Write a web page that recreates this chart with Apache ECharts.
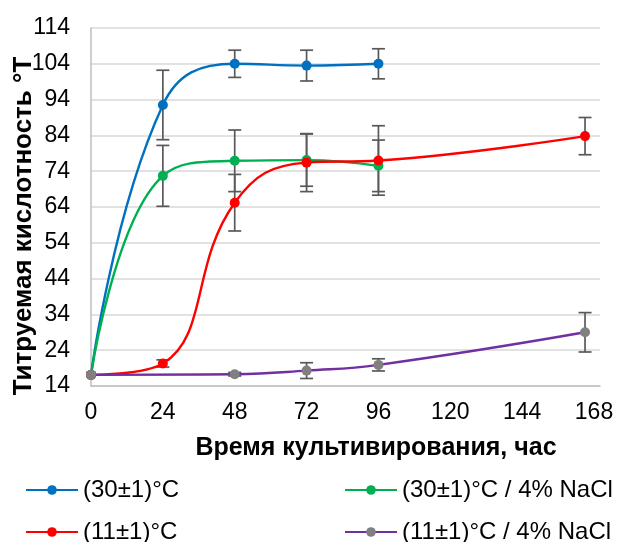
<!DOCTYPE html>
<html>
<head>
<meta charset="utf-8">
<script src="https://cdn.jsdelivr.net/npm/echarts@6/dist/echarts.min.js"></script>
<style>html,body{margin:0;padding:0;background:#fff}#c{width:617px;height:542px}</style>
</head>
<body>
<div id="c"></div>
<script>
var yTicks = [14, 24, 34, 44, 54, 64, 74, 84, 94, 104, 114];
var xTicks = [0, 24, 48, 72, 96, 120, 144, 168];

var names = ['(30±1)°C', '(30±1)°C / 4% NaCl', '(11±1)°C', '(11±1)°C / 4% NaCl'];

var hours30 = [0, 24, 48, 72, 96];
var blue = [17.1, 92.5, 104, 103.5, 104];
var blueErr = [0, 9.7, 3.8, 4.3, 4.2];
var green = [17.1, 72.7, 76.9, 77.1, 75.5];
var greenErr = [0, 8.5, 8.6, 7.3, 7.2];

var hours11 = [0, 24, 48, 72, 96, 165];
var red = [17.1, 20.3, 65.2, 76.4, 77, 83.8];
var redErr = [0, 1, 7.9, 8.1, 9.7, 5.2];

var hoursP = [0, 48, 72, 96, 165];
var purple = [17.1, 17.3, 18.3, 19.9, 29];
var purpleErr = [0, 0.5, 2.2, 1.7, 5.5];

var FONT = 'Liberation Sans';

function pairs(xs, ys) { return xs.map(function (x, i) { return [x, ys[i]]; }); }
function errs(xs, ys, es) {
  var out = [];
  xs.forEach(function (x, i) { if (es[i] > 0) out.push([x, ys[i], es[i]]); });
  return out;
}

function errSeries(data, z) {
  return {
    type: 'custom',
    z: z,
    silent: true,
    data: data,
    encode: { x: 0, y: 1 },
    renderItem: function (params, api) {
      var x = api.value(0), y = api.value(1), e = api.value(2);
      var top = api.coord([x, y + e]);
      var bot = api.coord([x, y - e]);
      var hw = 6.5;
      var st = { stroke: '#595959', lineWidth: 1.7 };
      return {
        type: 'group',
        children: [
          { type: 'line', shape: { x1: top[0], y1: top[1], x2: bot[0], y2: bot[1] }, style: st },
          { type: 'line', shape: { x1: top[0] - hw, y1: top[1], x2: top[0] + hw, y2: top[1] }, style: st },
          { type: 'line', shape: { x1: bot[0] - hw, y1: bot[1], x2: bot[0] + hw, y2: bot[1] }, style: st }
        ]
      };
    }
  };
}

function lineSeries(name, data, lineColor, markColor) {
  return {
    name: name,
    type: 'line',
    z: 3,
    smooth: 0.45,
    symbol: 'circle',
    symbolSize: 10,
    showSymbol: true,
    data: data,
    lineStyle: { color: lineColor, width: 2.4 },
    itemStyle: { color: markColor },
    emphasis: { disabled: true }
  };
}

function legendAt(name, left, top) {
  return {
    data: [name],
    left: left,
    top: top,
    itemWidth: 52,
    itemHeight: 12,
    selectedMode: false,
    padding: 0,
    textStyle: { fontFamily: FONT, fontSize: 24, lineHeight: 26, color: '#000' }
  };
}

var chart = echarts.init(document.getElementById('c'), null, { renderer: 'canvas' });
chart.setOption({
  animation: false,
  backgroundColor: '#fff',
  grid: { left: 91, right: 17, top: 28, bottom: 156, containLabel: false },
  xAxis: {
    type: 'value',
    min: 0,
    max: 170,
    axisLine: { show: true, lineStyle: { color: '#BFBFBF', width: 1.5 } },
    axisTick: { show: false, customValues: xTicks },
    axisLabel: { customValues: xTicks, fontFamily: FONT, fontSize: 23, color: '#000', margin: 15 },
    splitLine: { show: false }
  },
  yAxis: {
    type: 'value',
    min: 14,
    max: 114,
    axisLine: { show: true, lineStyle: { color: '#BFBFBF', width: 1.5 } },
    axisTick: { show: false, customValues: yTicks },
    axisLabel: { customValues: yTicks, fontFamily: FONT, fontSize: 23, color: '#000', margin: 21 },
    splitLine: { show: true, lineStyle: { color: '#D9D9D9', width: 1.5 } }
  },
  legend: [
    legendAt(names[0], 25, 477),
    legendAt(names[1], 344, 477),
    legendAt(names[2], 25, 519),
    legendAt(names[3], 344, 519)
  ],
  graphic: [
    {
      type: 'text', x: 376, y: 448,
      style: { text: 'Время культивирования, час', fontFamily: FONT, fontWeight: 'bold', fontSize: 25, fill: '#000', textAlign: 'center', textVerticalAlign: 'middle' }
    },
    {
      type: 'text', x: 24, y: 226, rotation: Math.PI / 2,
      style: { text: 'Титруемая кислотность °Т', fontFamily: FONT, fontWeight: 'bold', fontSize: 26, fill: '#000', textAlign: 'center', textVerticalAlign: 'middle' }
    }
  ],
  series: [
    errSeries(errs(hours30, blue, blueErr), 1),
    errSeries(errs(hours30, green, greenErr), 1),
    errSeries(errs(hours11, red, redErr), 1),
    errSeries(errs(hoursP, purple, purpleErr), 1),
    lineSeries(names[0], pairs(hours30, blue), '#0070C0', '#0070C0'),
    lineSeries(names[1], pairs(hours30, green), '#00B050', '#00B050'),
    lineSeries(names[2], pairs(hours11, red), '#FF0000', '#FF0000'),
    lineSeries(names[3], pairs(hoursP, purple), '#7030A0', '#808080')
  ]
});
</script>
</body>
</html>
